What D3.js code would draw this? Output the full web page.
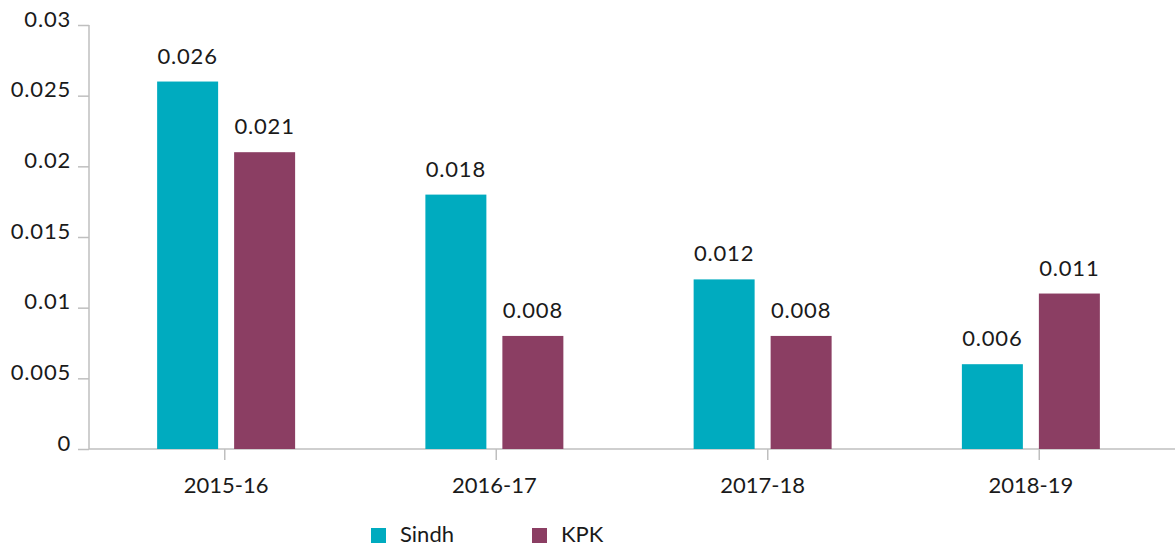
<!DOCTYPE html>
<html>
<head>
<meta charset="utf-8">
<script src="https://cdn.jsdelivr.net/npm/d3@7"></script>
<style>
  body { margin: 0; background: #fff; }
  text { font-family: Lato, "Noto Sans", sans-serif; fill: #1a1a1a; }
  .num { letter-spacing: 0.8px; }
</style>
</head>
<body>
<div class="graphic"></div>
<script>
// chart data
var categories = ["2015-16", "2016-17", "2017-18", "2018-19"];
var seriesNames = ["Sindh", "KPK"];
var sindhValues = [0.026, 0.018, 0.012, 0.006];
var kpkValues = [0.021, 0.008, 0.008, 0.011];
var yTickValues = [0, 0.005, 0.01, 0.015, 0.02, 0.025, 0.03];
var colors = ["#00abbf", "#8b3e63"];

var width = 1175, height = 546;
var axisLeftX = 89, axisRightX = 1175;
var y0 = 449, yTop = 25;

var data = categories.map(function(c, i) {
  return { cat: c, values: [sindhValues[i], kpkValues[i]] };
});

var svg = d3.select(".graphic").append("svg")
    .attr("width", width)
    .attr("height", height);

// scales
var y = d3.scaleLinear()
    .domain([0, 0.03])
    .range([y0, yTop]);

// axis band (ticks) and bar group band
var xAxisScale = d3.scaleBand()
    .domain(categories)
    .range([axisLeftX, axisRightX]);

var x0 = d3.scaleBand()
    .domain(categories)
    .range([92, 1165])
    .paddingInner(0.4856)
    .paddingOuter(0.2428);

var x1 = d3.scaleBand()
    .domain(seriesNames)
    .range([0, x0.bandwidth()])
    .paddingInner(0.2078);

// y axis
var yAxis = svg.append("g")
    .attr("transform", "translate(" + axisLeftX + ",0)")
    .call(d3.axisLeft(y)
      .tickValues(yTickValues)
      .tickSize(11)
      .tickPadding(7)
      .tickFormat(function(d) { return String(+d.toFixed(3)); }));
yAxis.select(".domain").attr("stroke", "#bfbfbf").attr("stroke-width", 1.5)
  .attr("d", "M0," + y0 + "V" + yTop);
yAxis.selectAll(".tick line").attr("stroke", "#bfbfbf").attr("stroke-width", 1.5);
yAxis.selectAll(".tick text")
    .attr("class", "num")
    .attr("dy", "0.05em")
    .style("font-size", "22px")
    .style("fill", "#1a1a1a");

// x axis
var xAxis = svg.append("g")
    .attr("transform", "translate(0," + y0 + ")")
    .call(d3.axisBottom(xAxisScale).tickSize(11).tickFormat(""));
xAxis.select(".domain").attr("stroke", "#bfbfbf").attr("stroke-width", 1.5)
  .attr("d", "M" + axisLeftX + ",0H" + axisRightX);
xAxis.selectAll(".tick line").attr("stroke", "#bfbfbf").attr("stroke-width", 1.5);

svg.selectAll(".cat-label")
    .data(categories)
    .enter()
    .append("text")
    .attr("class", "cat-label")
    .attr("x", function(d) { return x0(d) + x0.bandwidth() / 2; })
    .attr("y", 493)
    .attr("text-anchor", "middle")
    .style("font-size", "22px")
    .text(function(d) { return d; });

// bars
var groups = svg.selectAll(".group")
    .data(data)
    .enter()
    .append("g")
    .attr("class", "group")
    .attr("transform", function(d) { return "translate(" + x0(d.cat) + ",0)"; });

groups.selectAll("rect")
    .data(function(d) { return d.values.map(function(v, i) { return { name: seriesNames[i], value: v, i: i }; }); })
    .enter()
    .append("rect")
    .attr("x", function(d) { return x1(d.name); })
    .attr("width", x1.bandwidth())
    .attr("y", function(d) { return y(d.value); })
    .attr("height", function(d) { return y0 - y(d.value); })
    .attr("fill", function(d) { return colors[d.i]; });

groups.selectAll(".val")
    .data(function(d) { return d.values.map(function(v, i) { return { name: seriesNames[i], value: v }; }); })
    .enter()
    .append("text")
    .attr("class", "val num")
    .attr("x", function(d) { return x1(d.name) + x1.bandwidth() / 2; })
    .attr("y", function(d) { return y(d.value) - 18; })
    .attr("text-anchor", "middle")
    .style("font-size", "22px")
    .text(function(d) { return d.value.toFixed(3); });

// legend
var legendX = d3.scalePoint()
    .domain(seriesNames)
    .range([371, 532]);

var legend = svg.selectAll(".legend")
    .data(seriesNames)
    .enter()
    .append("g")
    .attr("class", "legend")
    .attr("transform", function(d) { return "translate(" + legendX(d) + ",528)"; });

legend.append("rect")
    .attr("width", 15)
    .attr("height", 15)
    .attr("fill", function(d, i) { return colors[i]; });

legend.append("text")
    .attr("x", 29)
    .attr("y", 14)
    .style("font-size", "22px")
    .text(function(d) { return d; });
</script>
</body>
</html>
